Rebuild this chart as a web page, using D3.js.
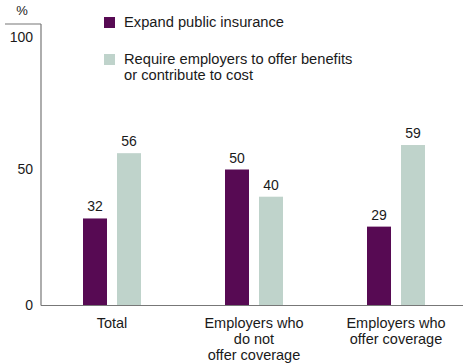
<!DOCTYPE html>
<html>
<head>
<meta charset="utf-8">
<script src="https://cdn.jsdelivr.net/npm/d3@7"></script>
<style>
  html, body { margin: 0; padding: 0; background: #ffffff; }
  svg { display: block; font-family: "Liberation Sans", Arial, Helvetica, sans-serif; }
</style>
</head>
<body>
<svg id="chart" width="463" height="364"></svg>
<script>
// Support for coverage proposals, by employer group (%)
const categories = ["Total", "Employers who|do not|offer coverage", "Employers who|offer coverage"];
const seriesNames = ["Expand public insurance", "Require employers to offer benefits|or contribute to cost"];
const expandPublic = [32, 50, 29];
const requireEmployers = [56, 40, 59];
const yTicks = [0, 50, 100];
const seriesColors = ["#570a53", "#bfd3cb"];

const svg = d3.select("#chart");
const W = 463;
const margin = { left: 41, top: 24 };
const ink = "#1a1a1a";

const y = d3.scaleLinear().domain([0, 100]).range([305.5, 33.5]);
const x0 = d3.scaleBand().domain(categories).range([41, 467]).padding(0);
const x1 = d3.scaleBand().domain(seriesNames).range([0, 58]).paddingInner(0.294);

const rows = categories.map((c, i) => ({
  cat: c,
  vals: [
    { s: seriesNames[0], v: expandPublic[i], color: seriesColors[0] },
    { s: seriesNames[1], v: requireEmployers[i], color: seriesColors[1] }
  ]
}));

// bars
const groups = svg.append("g").selectAll("g").data(rows).join("g")
  .attr("transform", d => `translate(${x0(d.cat) + x0.bandwidth() / 2 - 29},0)`);

groups.selectAll("rect").data(d => d.vals).join("rect")
  .attr("x", d => x1(d.s))
  .attr("y", d => y(d.v))
  .attr("width", x1.bandwidth())
  .attr("height", d => y(0) - y(d.v))
  .attr("fill", d => d.color);

// value labels
groups.selectAll("text.val").data(d => d.vals).join("text")
  .attr("class", "val")
  .attr("x", d => x1(d.s) + x1.bandwidth() / 2)
  .attr("y", d => y(d.v) - 7)
  .attr("text-anchor", "middle")
  .attr("font-size", 14)
  .attr("fill", ink)
  .text(d => d.v);

// y axis
const yAxis = d3.axisLeft(y).tickValues(yTicks).tickSize(0).tickPadding(8);
const gy = svg.append("g").attr("transform", `translate(${margin.left},0)`).call(yAxis);
gy.select(".domain").remove();
gy.selectAll("text")
  .attr("font-size", 14).attr("fill", ink).attr("font-family", null)
  .attr("dy", d => d === 100 ? "0.6em" : "0.32em");

svg.append("line")
  .attr("x1", margin.left).attr("x2", margin.left)
  .attr("y1", margin.top).attr("y2", y(0))
  .attr("stroke", "#777").attr("stroke-width", 1.2);
svg.append("line")
  .attr("x1", 5).attr("x2", margin.left)
  .attr("y1", margin.top).attr("y2", margin.top)
  .attr("stroke", "#777").attr("stroke-width", 1.2);
svg.append("text")
  .attr("x", 22).attr("y", 15)
  .attr("text-anchor", "middle")
  .attr("font-size", 13).attr("fill", ink)
  .text("%");

// x axis
svg.append("line")
  .attr("x1", margin.left).attr("x2", W)
  .attr("y1", y(0)).attr("y2", y(0))
  .attr("stroke", "#777").attr("stroke-width", 1.2);

const xl = svg.append("g").selectAll("text").data(categories).join("text")
  .attr("x", d => x0(d) + x0.bandwidth() / 2)
  .attr("y", 327.5)
  .attr("text-anchor", "middle")
  .attr("font-size", 14.5)
  .attr("fill", ink);
xl.each(function (d) {
  const t = d3.select(this);
  d.split("|").forEach((line, i) => {
    t.append("tspan")
      .attr("x", x0(d) + x0.bandwidth() / 2)
      .attr("dy", i === 0 ? 0 : 16.3)
      .text(line);
  });
});

// legend
const legendTop = [17, 54];
const legend = svg.append("g").selectAll("g").data(seriesNames).join("g")
  .attr("transform", (d, i) => `translate(104,${legendTop[i]})`);
legend.append("rect")
  .attr("width", 11).attr("height", 11)
  .attr("fill", (d, i) => seriesColors[i]);
legend.append("text")
  .attr("x", 20).attr("y", 10)
  .attr("font-size", 14.7).attr("fill", ink)
  .each(function (d) {
    const t = d3.select(this);
    d.split("|").forEach((line, i) => {
      t.append("tspan").attr("x", 20).attr("dy", i === 0 ? 0 : 15.5).text(line);
    });
  });
</script>
</body>
</html>
